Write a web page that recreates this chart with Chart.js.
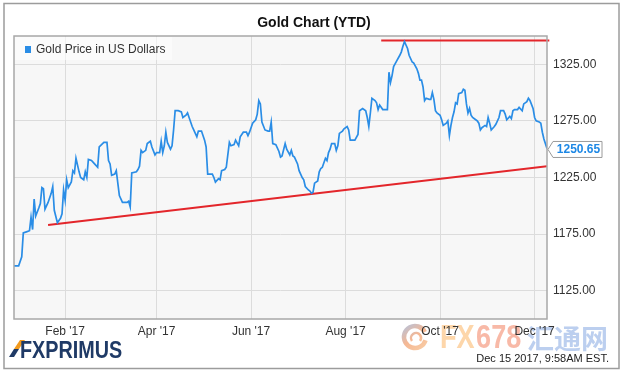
<!DOCTYPE html>
<html>
<head>
<meta charset="utf-8">
<script src="https://cdn.jsdelivr.net/npm/chart.js@4.4.1/dist/chart.umd.min.js"></script>
<style>
  html, body { margin: 0; padding: 0; background: #fff; }
  canvas { display: block; }
</style>
</head>
<body>
<canvas id="goldChart" width="628" height="373"></canvas>
<script>
// day of 2017 (Jan 1 = 0) and gold price in USD
const days = [
  -2, 1, 3, 4, 6, 8, 9, 10, 11, 12, 14, 15, 16, 17, 18, 20, 22, 23, 24, 26,
  28, 29, 30, 31, 32, 33, 35, 36, 37, 38, 40, 41, 43, 44, 45, 46, 48, 50, 52, 53,
  56, 58, 59, 60, 61, 63, 64, 66, 68, 71, 72, 73, 74, 77, 78, 79, 80, 81, 83, 84,
  86, 87, 89, 90, 92, 93, 94, 95, 96, 97, 99, 100, 101, 102, 104, 106, 107, 109, 110, 111,
  113, 114, 116, 117, 119, 121, 122, 123, 125, 126, 127, 128, 130, 131, 132, 134, 135, 137, 138, 140,
  141, 143, 144, 146, 148, 149, 150, 152, 154, 155, 156, 157, 158, 160, 162, 163, 164, 165, 167, 169,
  170, 171, 173, 174, 176, 177, 178, 179, 181, 182, 184, 185, 186, 188, 189, 190, 191, 192, 194, 195,
  196, 197, 199, 200, 201, 202, 203, 205, 206, 207, 208, 210, 211, 213, 214, 215, 216, 218, 220, 221,
  223, 225, 226, 227, 228, 229, 231, 232, 233, 234, 236, 238, 239, 240, 241, 242, 243, 245, 247, 248,
  249, 250, 252, 253, 255, 256, 258, 259, 260, 261, 262, 263, 264, 266, 267, 268, 269, 270, 271, 273,
  274, 275, 277, 278, 279, 280, 281, 282, 283, 284, 285, 287, 288, 289, 290, 291, 292, 293, 294, 296,
  297, 298, 299, 300, 302, 303, 304, 305, 306, 308, 309, 311, 312, 314, 315, 316, 318, 319, 320, 321,
  323, 324, 326, 327, 329, 330, 331, 333, 334, 335, 337, 338, 339, 340, 342
];
const prices = [
  1147, 1147, 1155, 1176, 1177, 1178, 1190, 1179, 1206, 1191, 1198, 1202, 1216, 1215, 1197, 1203, 1211, 1217, 1196, 1185,
  1189, 1193, 1214, 1205, 1223, 1216, 1221, 1231, 1229, 1242, 1230, 1225, 1223, 1230, 1225, 1241, 1240, 1237, 1234, 1252,
  1256, 1256, 1240, 1237, 1227, 1228, 1231, 1209, 1203, 1203, 1204, 1199, 1229, 1230, 1232, 1235, 1249, 1247, 1249, 1255,
  1257, 1252, 1245, 1247, 1247, 1257, 1247, 1253, 1265, 1256, 1250, 1253, 1267, 1284, 1284, 1283, 1278, 1280, 1282, 1278,
  1270, 1267, 1261, 1266, 1266, 1258, 1252, 1228, 1228, 1228, 1225, 1221, 1224, 1223, 1231, 1232, 1234, 1256, 1253, 1254,
  1258, 1253, 1261, 1265, 1265, 1262, 1265, 1273, 1276, 1281, 1293, 1290, 1274, 1267, 1266, 1266, 1274, 1255, 1254, 1248,
  1243, 1244, 1255, 1250, 1245, 1249, 1244, 1243, 1237, 1231, 1225, 1223, 1217, 1214, 1213, 1211, 1212, 1220, 1222, 1230,
  1233, 1234, 1242, 1240, 1247, 1250, 1255, 1255, 1249, 1253, 1264, 1266, 1268, 1270, 1267, 1258, 1258, 1258, 1263, 1284,
  1286, 1284, 1278, 1270, 1282, 1295, 1293, 1291, 1285, 1289, 1285, 1285, 1285, 1318, 1309, 1315, 1323, 1328, 1333, 1336,
  1341, 1345, 1339, 1333, 1327, 1326, 1321, 1317, 1311, 1311, 1305, 1293, 1295, 1294, 1294, 1300, 1294, 1284, 1282, 1280,
  1276, 1271, 1273, 1275, 1262, 1271, 1278, 1283, 1291, 1290, 1299, 1300, 1303, 1302, 1290, 1282, 1286, 1280, 1278, 1276,
  1275, 1273, 1267, 1269, 1271, 1270, 1278, 1273, 1267, 1270, 1272, 1278, 1284, 1284, 1281, 1276, 1279, 1277, 1284, 1285,
  1285, 1287, 1284, 1290, 1292, 1295, 1293, 1286, 1278, 1275, 1274, 1273, 1265, 1259, 1250.65
];

const monthTicks = [31, 90, 151, 212, 273, 334];
const monthLabels = ["Feb '17", "Apr '17", "Jun '17", "Aug '17", "Oct '17", "Dec '17"];
const priceTicks = [1125, 1175, 1225, 1275, 1325];

// red trend lines drawn on the chart
const supportDays = [20, 342];
const supportPrices = [1183, 1235];
const peakDays = [235, 343.5];
const peakPrices = [1346, 1346];

const FONT = "'Liberation Sans', Arial, sans-serif";
const BLUE = '#2a8de6';
const RED = '#e3262b';

const toPoints = (xs, ys) => xs.map((x, i) => ({ x: x, y: ys[i] }));

const decorations = {
  id: 'decorations',
  beforeDraw(chart) {
    const ctx = chart.ctx;
    const a = chart.chartArea;
    ctx.save();
    ctx.fillStyle = '#fff';
    ctx.fillRect(0, 0, chart.width, chart.height);
    ctx.fillStyle = '#f7f7f7';
    ctx.fillRect(a.left, a.top, a.right - a.left, a.bottom - a.top);

    // watermark
    ctx.globalAlpha = 0.75;
    const g = ctx.createLinearGradient(403, 322, 426, 352);
    g.addColorStop(0, '#8fb0e0');
    g.addColorStop(0.5, '#f2a070');
    g.addColorStop(1, '#f7c08a');
    ctx.strokeStyle = g;
    ctx.lineWidth = 4.5;
    ctx.beginPath();
    ctx.arc(415, 337, 11, 0.3, Math.PI * 1.85);
    ctx.stroke();
    ctx.lineWidth = 2.5;
    ctx.beginPath();
    ctx.arc(416, 338, 5, Math.PI * 0.8, Math.PI * 2.2);
    ctx.stroke();
    ctx.textBaseline = 'alphabetic';
    ctx.textAlign = 'left';
    ctx.font = 'bold 33px ' + FONT;
    ctx.save();
    ctx.translate(440, 348);
    ctx.scale(0.82, 1);
    ctx.fillStyle = '#fcc88e';
    ctx.fillText('FX', 0, 0);
    ctx.fillStyle = '#f6a28a';
    ctx.fillText('678', 44, 0);
    ctx.restore();
    ctx.fillStyle = '#a5bfe9';
    ctx.font = 'bold 27px "Noto Sans CJK SC", sans-serif';
    ctx.fillText('汇通网', 527, 349);
    ctx.restore();
  },
  afterDraw(chart) {
    const ctx = chart.ctx;
    const a = chart.chartArea;
    ctx.save();

    // plot frame and outer border
    ctx.strokeStyle = '#a8a8a8';
    ctx.lineWidth = 1.5;
    ctx.strokeRect(a.left, a.top, a.right - a.left, a.bottom - a.top);
    ctx.strokeStyle = '#9c9c9c';
    ctx.strokeRect(4, 3.5, 615, 365);

    // legend box
    ctx.fillStyle = 'rgba(255,255,255,0.55)';
    ctx.fillRect(a.left + 1, a.top + 1, 157, 23);
    ctx.fillStyle = BLUE;
    ctx.fillRect(25, 46, 6, 7);
    ctx.fillStyle = '#333';
    ctx.font = '12px ' + FONT;
    ctx.textBaseline = 'middle';
    ctx.textAlign = 'left';
    ctx.fillText('Gold Price in US Dollars', 36, 49.5);

    // last value callout
    const meta = chart.getDatasetMeta(0);
    const last = meta.data[meta.data.length - 1];
    const tipX = a.right + 1, midY = last.y + 1;
    const bx = tipX + 5, br = 602, bt = midY - 8, bb = midY + 8;
    ctx.beginPath();
    ctx.moveTo(bx, bt);
    ctx.lineTo(br, bt);
    ctx.lineTo(br, bb);
    ctx.lineTo(bx, bb);
    ctx.lineTo(tipX, midY);
    ctx.closePath();
    ctx.fillStyle = '#fff';
    ctx.fill();
    ctx.strokeStyle = '#9a9a9a';
    ctx.lineWidth = 1;
    ctx.stroke();
    ctx.fillStyle = '#1e88e5';
    ctx.font = 'bold 12px ' + FONT;
    ctx.textAlign = 'center';
    ctx.fillText(prices[prices.length - 1].toFixed(2), (bx + br) / 2 + 1, midY + 0.5);

    // title
    ctx.fillStyle = '#111';
    ctx.font = 'bold 14px ' + FONT;
    ctx.textBaseline = 'alphabetic';
    ctx.fillText('Gold Chart (YTD)', 314, 27);

    // FXPRIMUS logo
    ctx.beginPath();
    ctx.moveTo(20, 340);
    ctx.lineTo(25, 340);
    ctx.lineTo(19, 349);
    ctx.lineTo(14, 349);
    ctx.closePath();
    ctx.fillStyle = '#f29a1d';
    ctx.fill();
    ctx.beginPath();
    ctx.moveTo(14, 349);
    ctx.lineTo(19, 349);
    ctx.lineTo(14, 357);
    ctx.lineTo(9, 357);
    ctx.closePath();
    ctx.fillStyle = '#1f3a66';
    ctx.fill();
    ctx.save();
    ctx.translate(20, 357.5);
    ctx.scale(0.86, 1);
    ctx.font = 'bold 23px ' + FONT;
    ctx.textAlign = 'left';
    ctx.fillStyle = '#1f3a66';
    ctx.fillText('FXPRIMUS', 0, 0);
    ctx.restore();

    // timestamp
    ctx.font = '11px ' + FONT;
    ctx.fillStyle = '#222';
    ctx.textAlign = 'right';
    ctx.fillText('Dec 15 2017, 9:58AM EST.', 609, 362);
    ctx.restore();
  }
};

new Chart(document.getElementById('goldChart'), {
  type: 'line',
  data: {
    datasets: [
      {
        label: 'Gold Price in US Dollars',
        data: toPoints(days, prices),
        borderColor: BLUE,
        borderWidth: 1.7,
        pointRadius: 0,
        tension: 0
      },
      {
        label: 'Support',
        data: toPoints(supportDays, supportPrices),
        borderColor: RED,
        borderWidth: 2,
        pointRadius: 0
      },
      {
        label: 'Peak',
        data: toPoints(peakDays, peakPrices),
        borderColor: RED,
        borderWidth: 2,
        pointRadius: 0,
        clip: false
      }
    ]
  },
  options: {
    responsive: false,
    animation: false,
    devicePixelRatio: 1,
    layout: { padding: { left: 14, top: 36, right: 0, bottom: 0 } },
    plugins: {
      legend: { display: false },
      tooltip: { enabled: false },
      title: { display: false }
    },
    scales: {
      x: {
        type: 'linear',
        min: -2,
        max: 342,
        afterBuildTicks: (s) => { s.ticks = monthTicks.map(v => ({ value: v })); },
        afterFit: (s) => { s.height = 54; },
        grid: { color: '#dcdcdc', lineWidth: 1, drawTicks: false },
        border: { display: false },
        ticks: {
          autoSkip: false,
          maxRotation: 0,
          padding: 5,
          color: '#333',
          font: { family: FONT, size: 12 },
          callback: (v) => monthLabels[monthTicks.indexOf(v)]
        }
      },
      y: {
        position: 'right',
        min: 1100,
        max: 1350,
        afterBuildTicks: (s) => { s.ticks = priceTicks.map(v => ({ value: v })); },
        afterFit: (s) => { s.width = 81; },
        grid: { color: '#dcdcdc', lineWidth: 1, drawTicks: false },
        border: { display: false },
        ticks: {
          padding: 6,
          color: '#333',
          font: { family: FONT, size: 12 },
          callback: (v) => v.toFixed(2)
        }
      }
    }
  },
  plugins: [decorations]
});
</script>
</body>
</html>
